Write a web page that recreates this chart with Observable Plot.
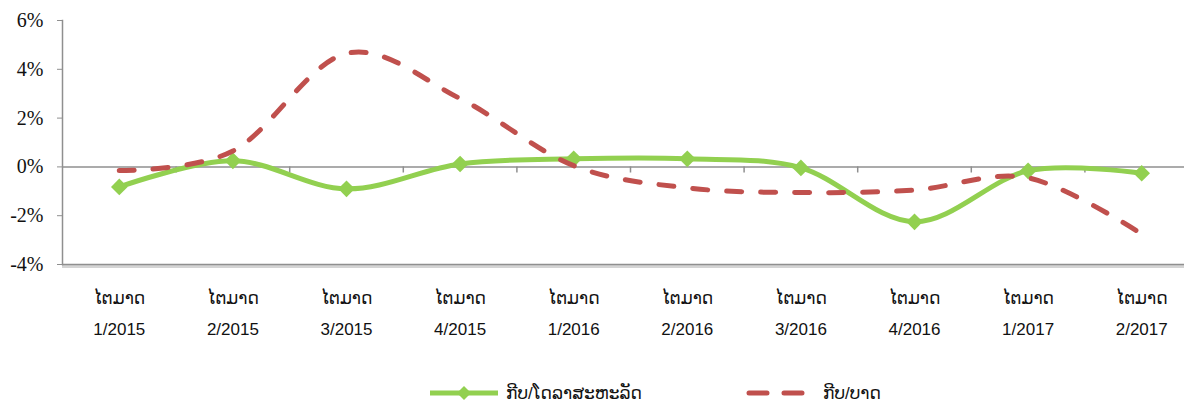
<!DOCTYPE html>
<html>
<head>
<meta charset="utf-8">
<script src="https://cdn.jsdelivr.net/npm/d3@7"></script>
<script src="https://cdn.jsdelivr.net/npm/@observablehq/plot@0.6"></script>
<style>
  html, body { margin: 0; padding: 0; background: #fff; }
  #wrap { position: relative; width: 1184px; height: 404px; overflow: hidden; background: #fff; }
  #chart { position: absolute; left: 0; top: 0; width: 1198px; }
  #chart svg { max-width: none !important; }
  #legend { position: absolute; left: 0; top: 380px; width: 1184px; height: 26px;
            font-family: "Liberation Sans", "DejaVu Sans", sans-serif; font-size: 17px; color: #111; }
  .item { position: absolute; top: 0; display: flex; align-items: center; height: 26px; }
  .item svg { margin-right: 6px; }
</style>
</head>
<body>
<div id="wrap">
  <div id="chart"></div>
  <div id="legend"></div>
</div>
<script>
// ---- data ----
const quarterWord = "ໄຕມາດ";
const quarterLabels = ["1/2015", "2/2015", "3/2015", "4/2015", "1/2016", "2/2016", "3/2016", "4/2016", "1/2017", "2/2017"];
const kipUsd = [-0.82, 0.25, -0.90, 0.12, 0.33, 0.33, -0.04, -2.25, -0.16, -0.26];
const kipThb = [-0.15, 0.65, 4.65, 2.80, 0.05, -0.86, -1.05, -0.95, -0.45, -2.75];
const yTicks = [-4, -2, 0, 2, 4, 6];
const seriesNames = ["ກີບ/ໂດລາສະຫະລັດ", "ກີບ/ບາດ"];
const seriesColors = ["#92D050", "#C0504D"];

const idx = quarterLabels.map((_, i) => i);
const boundaries = idx.slice(1).map(i => i - 0.5);

const chart = Plot.plot({
  width: 1198,
  height: 352,
  marginLeft: 62,
  marginRight: 0,
  marginTop: 20,
  marginBottom: 88,
  x: { type: "linear", domain: [-0.5, quarterLabels.length - 0.5] },
  y: { domain: [yTicks[0], yTicks[yTicks.length - 1]] },
  style: { background: "transparent", fontFamily: "Liberation Sans, DejaVu Sans, sans-serif", maxWidth: "none" },
  marks: [
    Plot.ruleY([yTicks[0]], { stroke: "#d4d4d4", strokeWidth: 3, dy: 2 }),
    Plot.ruleY([yTicks[0]], { stroke: "#8f8f8f", strokeWidth: 1.5 }),
    Plot.frame({ anchor: "left", stroke: "#8f8f8f", strokeWidth: 1.5 }),
    Plot.ruleY([0], { stroke: "#8f8f8f", strokeWidth: 1.5 }),
    Plot.ruleX(boundaries, { x: d => d, y1: 0, y2: -0.25, stroke: "#8f8f8f", strokeWidth: 1.5 }),
    Plot.axisY({
      ticks: yTicks, tickFormat: d => d + "%", tickSize: 5, tickPadding: 14,
      fontSize: 20, fontFamily: "Liberation Serif", stroke: "#8f8f8f", fill: "#111"
    }),
    Plot.axisX({
      ticks: idx, tickFormat: i => quarterWord + "\n" + quarterLabels[i],
      tickSize: 0, tickPadding: 18, fontSize: 17, lineHeight: 1.82, fill: "#111"
    }),
    Plot.line(idx, { x: i => i, y: i => kipUsd[i], curve: "cardinal", stroke: seriesColors[0], strokeWidth: 5 }),
    Plot.dot(idx, { x: i => i, y: i => kipUsd[i], symbol: "diamond2", r: 7.5, fill: seriesColors[0], stroke: "none" }),
    Plot.line(idx, { x: i => i, y: i => kipThb[i], curve: "cardinal", stroke: seriesColors[1], strokeWidth: 5,
      strokeDasharray: "15,19", strokeLinecap: "round" })
  ]
});
chart.style.maxWidth = "none";
document.getElementById("chart").appendChild(chart);

// ---- legend ----
const legend = document.getElementById("legend");
const positions = [428, 745];
seriesNames.forEach((name, k) => {
  const item = document.createElement("div");
  item.className = "item";
  item.style.left = positions[k] + "px";
  const sw = k === 0
    ? `<svg width="72" height="20"><line x1="2" y1="10" x2="70" y2="10" stroke="${seriesColors[0]}" stroke-width="5"/><path d="M36,3 L43,10 L36,17 L29,10 Z" fill="${seriesColors[0]}"/></svg>`
    : `<svg width="72" height="20"><line x1="4" y1="10" x2="66" y2="10" stroke="${seriesColors[1]}" stroke-width="5" stroke-linecap="round" stroke-dasharray="18,17"/></svg>`;
  item.innerHTML = sw + `<span>${name}</span>`;
  legend.appendChild(item);
});
</script>
</body>
</html>
